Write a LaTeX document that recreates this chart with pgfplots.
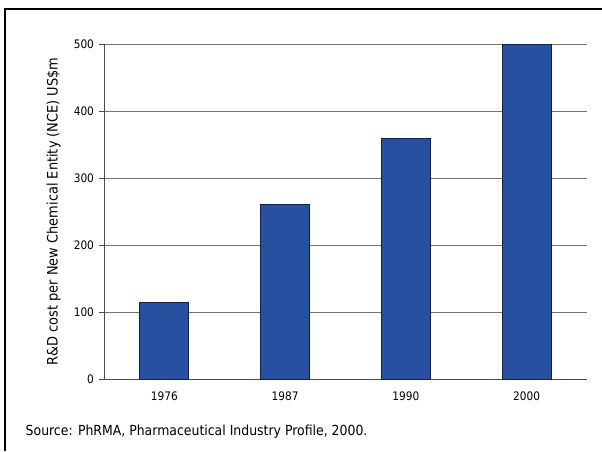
\documentclass[border=0pt]{standalone}
\usepackage{pgfplots}
\pgfplotsset{compat=1.18}
\usepackage{fontspec}
\setmainfont{DejaVu Sans Condensed}
\definecolor{barblue}{RGB}{40,80,160}
\definecolor{baredge}{RGB}{20,30,70}
\begin{document}
\begin{tikzpicture}[x=0.75pt,y=0.75pt]
\useasboundingbox (0,0) rectangle (602,451);
\draw[line width=1.1pt,black] (5,0) -- (5,442) -- (602,442);
\begin{axis}[
  at={(78pt,54pt)}, anchor=south west,
  scale only axis, width=362.25pt, height=251.25pt,
  xmin=-0.5, xmax=3.5, ymin=0, ymax=500,
  axis x line*=bottom, axis y line*=left,
  axis line style={black!70, line width=0.6pt},
  xtick={0,1,2,3}, xticklabels={1976,1987,1990,2000},
  major x tick style={draw=none},
  extra x ticks={-0.5,0.5,1.5,2.5,3.5}, extra x tick labels={},
  extra x tick style={tick align=outside, major tick length=4pt, major tick style={draw=black!70, line width=0.6pt}, grid=none},
  ytick={0,100,200,300,400,500},
  tick align=outside, major tick length=4pt,
  tick style={black!70, line width=0.6pt},
  ymajorgrids, grid style={black!55, line width=0.6pt},
  tick label style={font=\fontsize{8.8}{10}\selectfont},
  /pgf/number format/assume math mode=true,
  ylabel={R\&D cost per New Chemical Entity (NCE) US\$m},
  ylabel style={font=\fontsize{10.8}{12}\selectfont},
  ylabel shift=3pt,
  xticklabel style={yshift=-2pt},
  clip=false,
]
\addplot[ybar, bar width=36.75pt, fill=barblue, draw=baredge, line width=0.6pt] coordinates {(0,114) (1,260) (2,359) (3,500)};
\end{axis}
\node[anchor=west, font=\fontsize{10.4}{12}\selectfont] at (21,19) {Source: PhRMA, Pharmaceutical Industry Profile, 2000.};
\end{tikzpicture}
\end{document}
